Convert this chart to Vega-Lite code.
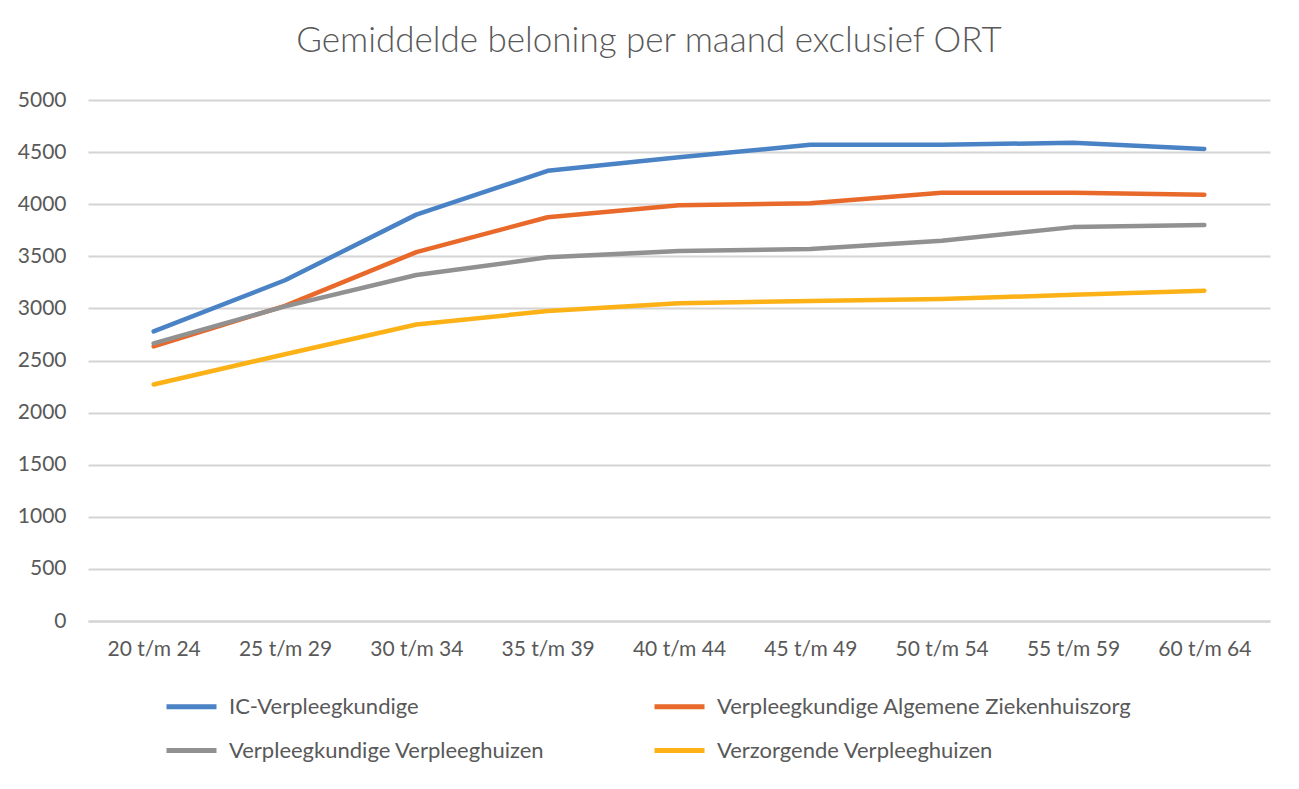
{
  "$schema": "https://vega.github.io/schema/vega-lite/v6.json",
  "autosize": "none",
  "width": 1182,
  "height": 521,
  "padding": {"left": 88, "top": 100, "right": 29, "bottom": 168},
  "background": "white",
  "title": {
    "text": "Gemiddelde beloning per maand exclusief ORT",
    "font": "Lato",
    "fontSize": 35,
    "fontWeight": 300,
    "color": "#595959",
    "anchor": "middle",
    "dx": -30,
    "offset": 30
  },
  "data": {
    "values": [
      {"leeftijd": "20 t/m 24", "reeks": "IC-Verpleegkundige", "waarde": 2780},
      {"leeftijd": "25 t/m 29", "reeks": "IC-Verpleegkundige", "waarde": 3270},
      {"leeftijd": "30 t/m 34", "reeks": "IC-Verpleegkundige", "waarde": 3900},
      {"leeftijd": "35 t/m 39", "reeks": "IC-Verpleegkundige", "waarde": 4320},
      {"leeftijd": "40 t/m 44", "reeks": "IC-Verpleegkundige", "waarde": 4450},
      {"leeftijd": "45 t/m 49", "reeks": "IC-Verpleegkundige", "waarde": 4570},
      {"leeftijd": "50 t/m 54", "reeks": "IC-Verpleegkundige", "waarde": 4570},
      {"leeftijd": "55 t/m 59", "reeks": "IC-Verpleegkundige", "waarde": 4590},
      {"leeftijd": "60 t/m 64", "reeks": "IC-Verpleegkundige", "waarde": 4530},
      {"leeftijd": "20 t/m 24", "reeks": "Verpleegkundige Algemene Ziekenhuiszorg", "waarde": 2635},
      {"leeftijd": "25 t/m 29", "reeks": "Verpleegkundige Algemene Ziekenhuiszorg", "waarde": 3025},
      {"leeftijd": "30 t/m 34", "reeks": "Verpleegkundige Algemene Ziekenhuiszorg", "waarde": 3540},
      {"leeftijd": "35 t/m 39", "reeks": "Verpleegkundige Algemene Ziekenhuiszorg", "waarde": 3875},
      {"leeftijd": "40 t/m 44", "reeks": "Verpleegkundige Algemene Ziekenhuiszorg", "waarde": 3990},
      {"leeftijd": "45 t/m 49", "reeks": "Verpleegkundige Algemene Ziekenhuiszorg", "waarde": 4010},
      {"leeftijd": "50 t/m 54", "reeks": "Verpleegkundige Algemene Ziekenhuiszorg", "waarde": 4110},
      {"leeftijd": "55 t/m 59", "reeks": "Verpleegkundige Algemene Ziekenhuiszorg", "waarde": 4110},
      {"leeftijd": "60 t/m 64", "reeks": "Verpleegkundige Algemene Ziekenhuiszorg", "waarde": 4090},
      {"leeftijd": "20 t/m 24", "reeks": "Verpleegkundige Verpleeghuizen", "waarde": 2665},
      {"leeftijd": "25 t/m 29", "reeks": "Verpleegkundige Verpleeghuizen", "waarde": 3020},
      {"leeftijd": "30 t/m 34", "reeks": "Verpleegkundige Verpleeghuizen", "waarde": 3320},
      {"leeftijd": "35 t/m 39", "reeks": "Verpleegkundige Verpleeghuizen", "waarde": 3490},
      {"leeftijd": "40 t/m 44", "reeks": "Verpleegkundige Verpleeghuizen", "waarde": 3550},
      {"leeftijd": "45 t/m 49", "reeks": "Verpleegkundige Verpleeghuizen", "waarde": 3570},
      {"leeftijd": "50 t/m 54", "reeks": "Verpleegkundige Verpleeghuizen", "waarde": 3650},
      {"leeftijd": "55 t/m 59", "reeks": "Verpleegkundige Verpleeghuizen", "waarde": 3780},
      {"leeftijd": "60 t/m 64", "reeks": "Verpleegkundige Verpleeghuizen", "waarde": 3800},
      {"leeftijd": "20 t/m 24", "reeks": "Verzorgende Verpleeghuizen", "waarde": 2270},
      {"leeftijd": "25 t/m 29", "reeks": "Verzorgende Verpleeghuizen", "waarde": 2560},
      {"leeftijd": "30 t/m 34", "reeks": "Verzorgende Verpleeghuizen", "waarde": 2845},
      {"leeftijd": "35 t/m 39", "reeks": "Verzorgende Verpleeghuizen", "waarde": 2975},
      {"leeftijd": "40 t/m 44", "reeks": "Verzorgende Verpleeghuizen", "waarde": 3050},
      {"leeftijd": "45 t/m 49", "reeks": "Verzorgende Verpleeghuizen", "waarde": 3070},
      {"leeftijd": "50 t/m 54", "reeks": "Verzorgende Verpleeghuizen", "waarde": 3090},
      {"leeftijd": "55 t/m 59", "reeks": "Verzorgende Verpleeghuizen", "waarde": 3130},
      {"leeftijd": "60 t/m 64", "reeks": "Verzorgende Verpleeghuizen", "waarde": 3170}
    ]
  },
  "mark": {"type": "line", "strokeWidth": 4.5, "interpolate": "linear", "strokeCap": "round", "strokeJoin": "round"},
  "encoding": {
    "x": {
      "field": "leeftijd",
      "type": "ordinal",
      "sort": null,
      "scale": {"padding": 0.5},
      "axis": {
        "title": null,
        "labelAngle": 0,
        "labelFont": "Lato",
        "labelFontSize": 21,
        "labelColor": "#595959",
        "labelPadding": 17,
        "ticks": false,
        "domain": true,
        "domainColor": "#d4d4d4",
        "domainWidth": 2,
        "grid": false
      }
    },
    "y": {
      "field": "waarde",
      "type": "quantitative",
      "scale": {"domain": [0, 5000], "nice": false},
      "axis": {
        "title": null,
        "values": [0, 500, 1000, 1500, 2000, 2500, 3000, 3500, 4000, 4500, 5000],
        "format": "d",
        "labelFont": "Lato",
        "labelFontSize": 21,
        "labelColor": "#595959",
        "labelPadding": 22,
        "ticks": false,
        "domain": false,
        "grid": true,
        "gridColor": "#d4d4d4",
        "gridWidth": 2
      }
    },
    "color": {
      "field": "reeks",
      "type": "nominal",
      "scale": {
        "domain": ["IC-Verpleegkundige", "Verpleegkundige Algemene Ziekenhuiszorg", "Verpleegkundige Verpleeghuizen", "Verzorgende Verpleeghuizen"],
        "range": ["#4A82C6", "#E8692A", "#919191", "#FCB116"]
      },
      "legend": {
        "title": null,
        "orient": "none",
        "direction": "horizontal",
        "legendX": 76,
        "legendY": 579,
        "columns": 2,
        "gridAlign": "all",
        "columnPadding": 0,
        "rowPadding": 5,
        "symbolType": "stroke",
        "symbolSize": 2500,
        "symbolStrokeWidth": 5,
        "labelFont": "Lato",
        "labelFontSize": 22,
        "labelColor": "#595959",
        "labelOffset": 10,
        "labelLimit": 600
      }
    }
  },
  "config": {
    "view": {"stroke": null}
  }
}
